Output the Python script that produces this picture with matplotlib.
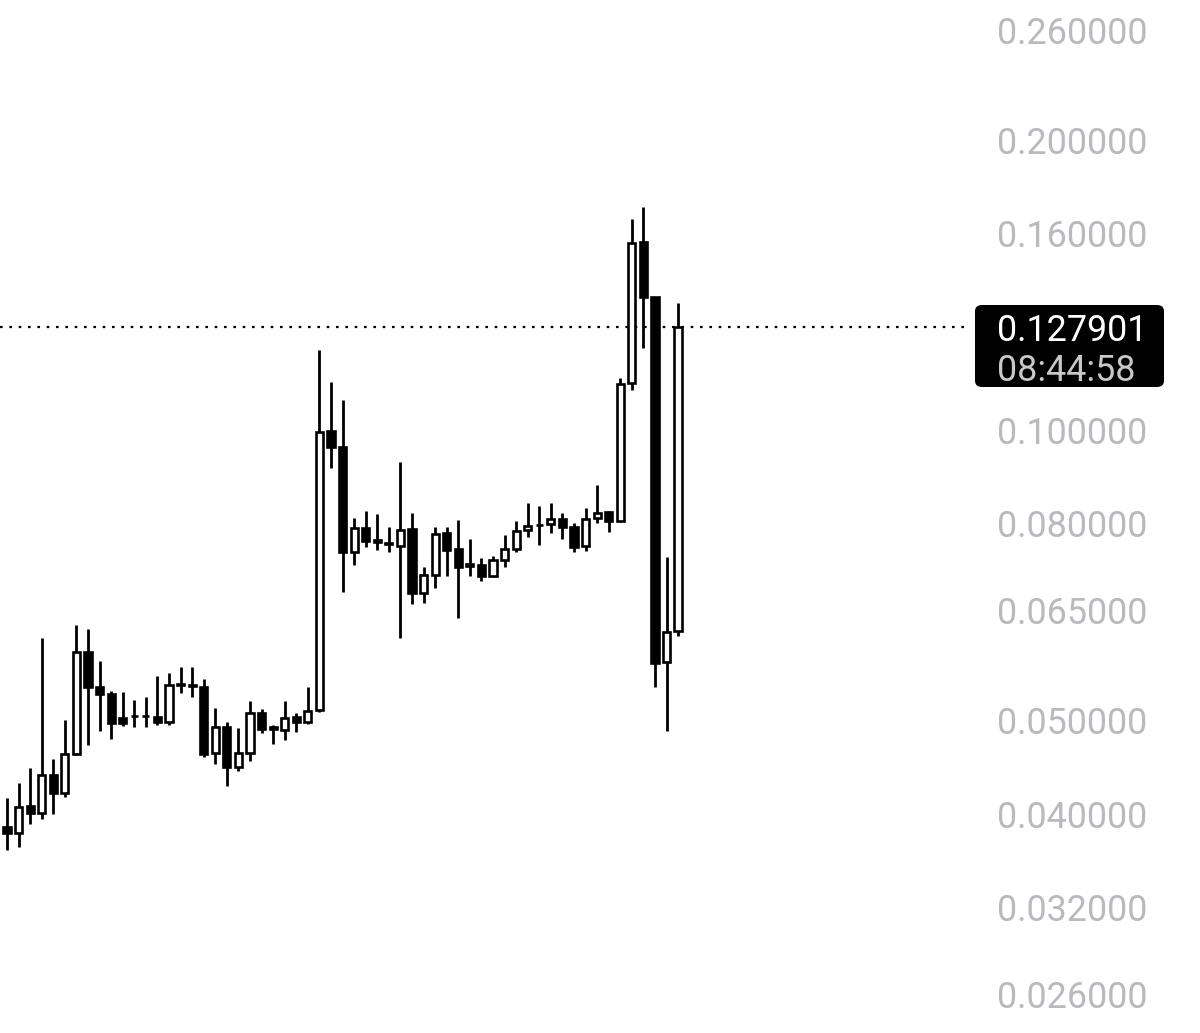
import matplotlib
matplotlib.use("Agg")
import matplotlib.pyplot as plt
from matplotlib.patches import FancyBboxPatch
import numpy as np

# OHLC data
opens = [0.03877, 0.03822, 0.04076, 0.04009, 0.04389, 0.04205, 0.04615, 0.05887, 0.05415, 0.05326,
         0.05029, 0.05053, 0.05053, 0.05041, 0.04981, 0.05441, 0.05441, 0.05415, 0.04626, 0.04922,
         0.04474, 0.04626, 0.05089, 0.04922, 0.04887, 0.05041, 0.04981, 0.05126, 0.09976, 0.09602,
         0.07474, 0.07915, 0.07691, 0.07636, 0.07582, 0.07896, 0.06777, 0.07075, 0.07821, 0.07528,
         0.07263, 0.07246, 0.07058, 0.07333, 0.07528, 0.07877, 0.07972, 0.07991, 0.08086, 0.07934,
         0.07582, 0.08106, 0.08223, 0.08048, 0.11187, 0.15663, 0.13736, 0.05748, 0.06190]
highs = [0.04155, 0.04306, 0.04463, 0.06087, 0.04560, 0.05005, 0.06279, 0.06219, 0.05762, 0.05364,
         0.05351, 0.05250, 0.05288, 0.05559, 0.05599, 0.05680, 0.05680, 0.05520, 0.05150, 0.04981,
         0.04911, 0.05237, 0.05138, 0.04946, 0.05237, 0.05089, 0.05415, 0.12104, 0.11214, 0.10742,
         0.08106, 0.08242, 0.08183, 0.07934, 0.09265, 0.08203, 0.07211, 0.07934, 0.07934, 0.08067,
         0.07710, 0.07367, 0.07403, 0.07783, 0.08048, 0.08401, 0.08341, 0.08401, 0.08203, 0.08010,
         0.08301, 0.08770, 0.08242, 0.11321, 0.16546, 0.17027, 0.13750, 0.07385, 0.13541]
lows = [0.03670, 0.03696, 0.03905, 0.03952, 0.03999, 0.04165, 0.04600, 0.04715, 0.04875, 0.04783,
        0.04934, 0.04922, 0.04922, 0.04946, 0.04946, 0.05338, 0.05288, 0.04582, 0.04506, 0.04276,
        0.04432, 0.04538, 0.04852, 0.04727, 0.04772, 0.04864, 0.04958, 0.05100, 0.09133, 0.06794,
        0.07246, 0.07564, 0.07510, 0.07474, 0.06087, 0.06601, 0.06617, 0.06859, 0.07058, 0.06385,
        0.07058, 0.06974, 0.07040, 0.07211, 0.07474, 0.07746, 0.07600, 0.07821, 0.07710, 0.07474,
        0.07492, 0.08010, 0.07840, 0.08030, 0.11002, 0.12161, 0.05415, 0.04875, 0.06116]
closes = [0.03822, 0.04067, 0.04009, 0.04389, 0.04205, 0.04615, 0.05887, 0.05415, 0.05326, 0.04969,
          0.04969, 0.05050, 0.05055, 0.04981, 0.05441, 0.05454, 0.05428, 0.04615, 0.04922, 0.04474,
          0.04626, 0.05089, 0.04899, 0.04899, 0.05029, 0.04981, 0.05114, 0.09952, 0.09602, 0.07474,
          0.07915, 0.07673, 0.07654, 0.07618, 0.07877, 0.06777, 0.07075, 0.07802, 0.07510, 0.07211,
          0.07228, 0.07058, 0.07333, 0.07528, 0.07858, 0.07953, 0.07965, 0.08086, 0.07934, 0.07564,
          0.08086, 0.08203, 0.08048, 0.11160, 0.15625, 0.13736, 0.05734, 0.06175, 0.127901]

tick_values = [0.260, 0.200, 0.160, 0.100, 0.080, 0.065, 0.050, 0.040, 0.032, 0.026]
last_price = 0.127901
last_time = "08:44:58"

W, H = 1200, 1033
fig = plt.figure(figsize=(W / 100, H / 100), dpi=100)
fig.patch.set_facecolor("white")
ax_right_px = 970
ax = fig.add_axes([0, 0, ax_right_px / W, 1])
ax.set_facecolor("white")
ax.set_yscale("log")
ax.set_ylim(0.02371, 0.27906)
ax.set_xlim(-0.605, 83.23)

n = len(opens)
x = np.arange(n)
o = np.array(opens); c = np.array(closes); h = np.array(highs); l = np.array(lows)
up = c >= o

ax.vlines(x, l, h, color="black", linewidth=2.0, zorder=1)
bottoms = np.minimum(o, c)
heights = np.maximum(np.abs(c - o), 1e-6)
ax.bar(x[up], heights[up], bottom=bottoms[up], width=0.62, color="white",
       edgecolor="black", linewidth=1.9, zorder=2)
ax.bar(x[~up], heights[~up], bottom=bottoms[~up], width=0.62, color="black",
       edgecolor="black", linewidth=1.9, zorder=2)

ax.axhline(last_price, color="black", linestyle=(0, (1.2, 3.0)), linewidth=1.6, zorder=0)

for s in ax.spines.values():
    s.set_visible(False)
ax.set_xticks([])
ax.set_yticks([])
ax.minorticks_off()

# y tick labels on the right (placed at the data values)
label_font = dict(family=["Roboto", "DejaVu Sans"], fontsize=25.8, color="#b9b9be")
trans = matplotlib.transforms.blended_transform_factory(fig.transFigure, ax.transData)
for t in tick_values:
    fig.text(997 / W, t, f"{t:.6f}", transform=trans, ha="left", va="center_baseline", **label_font)

# last price box
box = FancyBboxPatch((975 / W, (H - 387) / H), (1164 - 975) / W, (387 - 305) / H,
                     boxstyle="round,pad=0,rounding_size=0.006", transform=fig.transFigure,
                     facecolor="black", edgecolor="none", zorder=5)
fig.patches.append(box)
fig.text(997 / W, last_price, f"{last_price:.6f}", transform=trans, ha="left", va="center_baseline",
         family=["Roboto", "DejaVu Sans"], fontsize=25.8, color="white", zorder=6)
fig.text(997 / W, (H - 367) / H, last_time, ha="left", va="center_baseline",
         family=["Roboto", "DejaVu Sans"], fontsize=25.8, color="#c8c8c8", zorder=6)

fig.savefig("out.png", dpi=100, facecolor="white")
